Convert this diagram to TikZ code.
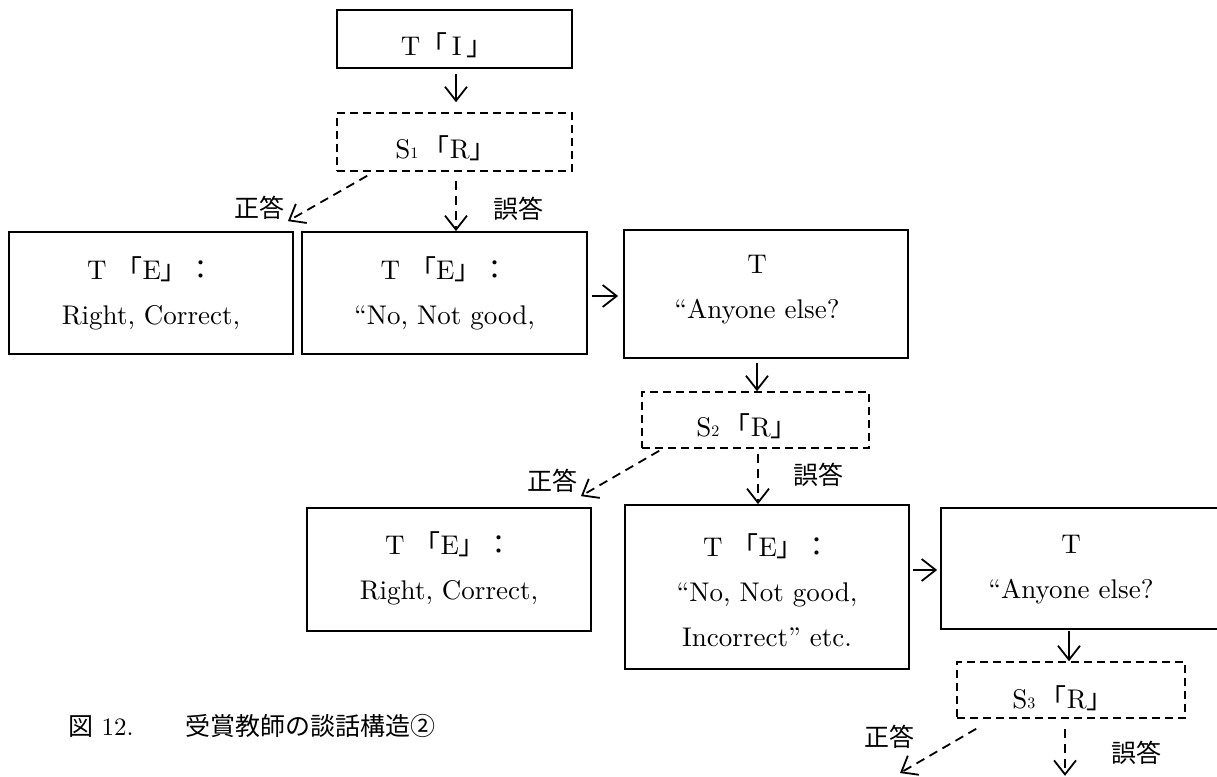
\documentclass[tikz,border=0pt]{standalone}
\usepackage{fontspec}
\setmainfont{lmroman10-regular}[Extension=.otf]
\newfontfamily\cjk{Noto Sans CJK JP}
\usetikzlibrary{arrows.meta,calc}
\begin{document}
\begin{tikzpicture}[x=1pt,y=-1pt,
  box/.style={draw,line width=1.8pt,inner sep=0pt},
  dbox/.style={draw,line width=1.6pt,dash pattern=on 8pt off 5pt,inner sep=0pt},
  txt/.style={align=center,font=\fontsize{27}{45}\selectfont,inner sep=0pt},
  lbl/.style={font=\cjk\fontsize{25}{30}\selectfont,inner sep=0pt},
  arr/.style={line width=1.8pt,-{Straight Barb[length=14pt,width=22pt]}},
  darr/.style={arr,dash pattern=on 9pt off 6pt}]
\useasboundingbox (0,0) rectangle (1217,776);
\fill[white] (0,0) rectangle (1217,776);
\clip (0,0) rectangle (1217,776);

% boxes
\node[box,minimum width=235,minimum height=58] (ti) at (454.5,39) {};
\node[txt] (tit) at (447,45) {T{\cjk 「}\,I\,{\cjk 」}};
\node[dbox,minimum width=235,minimum height=58] (s1) at (454.5,142) {};
\node[txt] (s1t) at (446,148) {S{\fontsize{16}{16}\selectfont 1}\,{\cjk 「}R{\cjk 」}};

\node[box,minimum width=284,minimum height=122] (e1) at (151,293) {};
\node[txt] (e1t) at (151,293) {T\ {\cjk 「}E{\cjk 」：}\\Right, Correct,};
\node[box,minimum width=285,minimum height=122] (e2) at (444.5,293) {};
\node[txt] (e2t) at (444.5,293) {T\ {\cjk 「}E{\cjk 」：}\\“No, Not good,};
\node[box,minimum width=284,minimum height=128] (t1) at (766,294) {};
\node[txt] (t1t) at (757,290) {T\\“Anyone else?};

\node[dbox,minimum width=227,minimum height=56] (s2) at (755.5,420) {};
\node[txt] (s2t) at (747,426) {S{\fontsize{16}{16}\selectfont 2}\,{\cjk 「}R{\cjk 」}};

\node[box,minimum width=284,minimum height=123] (e3) at (449,569.5) {};
\node[txt] (e3t) at (449,568) {T\ {\cjk 「}E{\cjk 」：}\\Right, Correct,};
\node[box,minimum width=284,minimum height=164] (e4) at (767,587) {};
\node[txt] (e4t) at (767,590) {T\ {\cjk 「}E{\cjk 」：}\\“No, Not good,\\Incorrect” etc.};
\node[box,minimum width=284,minimum height=121] (t2) at (1083,568.5) {};
\node[txt] (t2t) at (1071,570) {T\\“Anyone else?};

\node[dbox,minimum width=228,minimum height=56] (s3) at (1071,690) {};
\node[txt] (s3t) at (1063,698) {S{\fontsize{16}{16}\selectfont 3}\,{\cjk 「}R{\cjk 」}};

% labels
\node[lbl] (l1a) at (259,208) {正答};
\node[lbl] (l1b) at (518,209) {誤答};
\node[lbl] (l2a) at (552,481) {正答};
\node[lbl] (l2b) at (818,475) {誤答};
\node[lbl] (l3a) at (889,737) {正答};
\node[lbl] (l3b) at (1136,753) {誤答};

% caption
\node[anchor=west,inner sep=0pt,font=\fontsize{25}{28}\selectfont] (cap) at (68,726)
  {{\cjk 図} 12.\hspace{52pt}{\cjk 受賞教師の談話構造②}};

% solid arrows
\coordinate (ta) at ($(ti.south)+(1.5,5)$);
\draw[arr] (ta) -- ($(s1.north)+(1.5,-10)$);
\draw[arr] ($(e2.east |- t1.west)+(4,2)$) -- ($(t1.west)+(-5,2)$);
\draw[arr] ($(t1.south -| s2.north)+(1.5,4)$) -- ($(s2.north)+(1.5,0)$);
\draw[arr] ($(e4.east |- t2.west)+(3,1.5)$) -- ($(t2.west)+(-3,1.5)$);
\draw[arr] ($(t2.south -| s3.north)+(-2,1)$) -- ($(s3.north)+(-2,0)$);

% dashed arrows
\draw[darr] ($(s1.south west)+(31,4)$) -- ($(e1.north east)+(-6,-10)$);
\coordinate (a1) at ($(s1.south)+(1.5,9)$);
\draw[darr] (a1) -- (a1 |- e2.north);
\draw[darr] ($(s2.south west)+(18,2)$) -- ($(e3.north east)+(-11,-11)$);
\coordinate (a2) at ($(s2.south)+(2.5,5)$);
\draw[darr] (a2) -- (a2 |- e4.north);
\coordinate (b3) at (900,773);
\draw[darr] ($(s3.south west)+(20,10)$) -- (b3);
\coordinate (a3) at ($(s3.south)+(-6,10)$);
\coordinate (a3e) at ($(s3.south)+(-6,57)$);
\draw[darr] (a3) -- (a3e);
\end{tikzpicture}
\end{document}
